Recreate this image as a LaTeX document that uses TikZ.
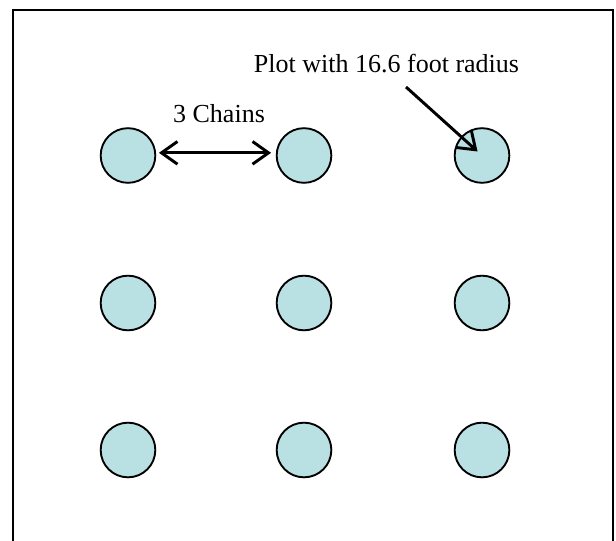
\documentclass[tikz,border=0pt]{standalone}
\usepackage{fontspec}
\setmainfont{Liberation Serif}
\usepackage{tikz}
\usetikzlibrary{positioning, shapes, arrows.meta}
\usepackage{xcolor}
\definecolor{plotblue}{RGB}{185,224,227}

\begin{document}
\begin{tikzpicture}[x=0.75pt, y=-0.75pt,
        >={Straight Barb[length=12pt, width=17pt, line width=2.2pt]},
        plot/.style={circle, draw, line width=1.4pt, fill=plotblue, minimum size=41pt, inner sep=0pt},
        pointer/.style={line width=2.2pt},
        label/.style={font=\fontsize{19.5}{22}\selectfont, anchor=base, inner sep=0pt}]
        \useasboundingbox (0,0) rectangle (616,541);
        \draw[line width=1.5pt] (12.5,541) -- (12.5,10.5) -- (612.5,10.5) -- (612.5,541);
        \begin{scope}
            \node[plot] (a) at (128,155.5) {};
            \node[plot] (b) at (304,155.5) {};
            \node[plot] (c) at (482,155.5) {};
            \node[plot] (d) at (128,303) {};
            \node[plot] (e) at (304,303) {};
            \node[plot] (f) at (482,303) {};
            \node[plot] (g) at (128,450) {};
            \node[plot] (h) at (304,450) {};
            \node[plot] (i) at (482,450) {};
        \end{scope}
        \node[label] (chains) at (219,123) {3 Chains};
        \node[label] (radius) at (386.5,73) {Plot with 16.6 foot radius};
        \coordinate (tail) at (406,87);
        \draw[pointer, <->, shorten <=2pt, shorten >=3.5pt] ([yshift=2pt]a.east) -- ([yshift=2pt]b.west);
        \draw[pointer, ->, shorten >=4.5pt] (tail) -- (c.center);
    \end{tikzpicture}
\end{document}
